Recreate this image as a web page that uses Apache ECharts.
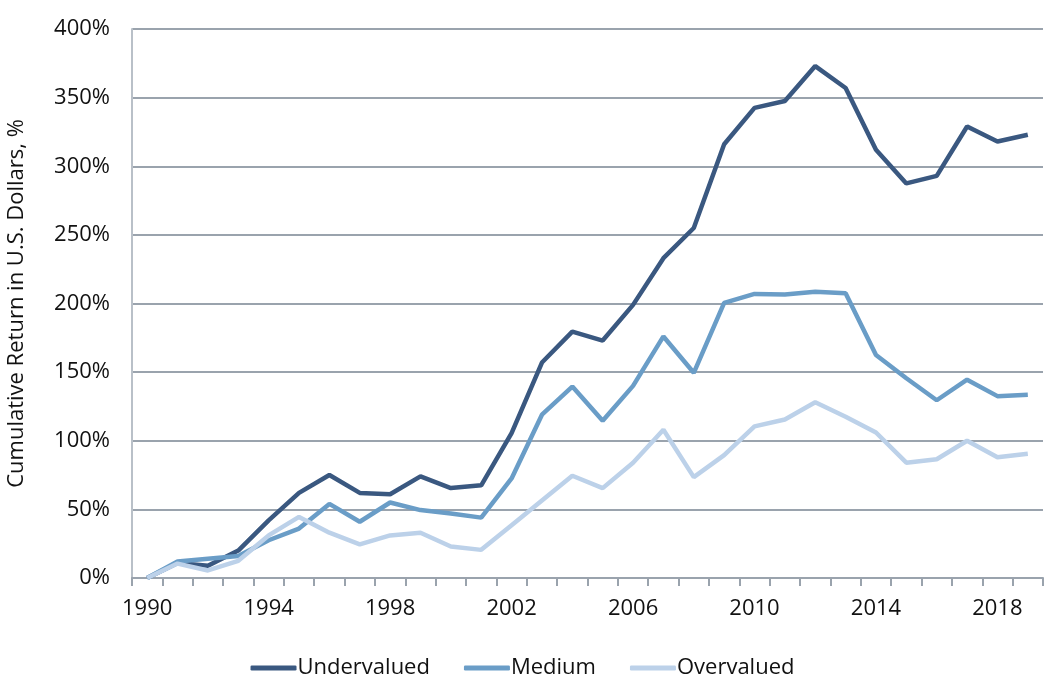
<!DOCTYPE html>
<html>
<head>
<meta charset="utf-8">
<script src="https://cdn.jsdelivr.net/npm/echarts@6/dist/echarts.min.js"></script>
<style>html,body{margin:0;padding:0;background:#fff}#c{width:1045px;height:681px}</style>
</head>
<body>
<div id="c"></div>
<script>
const years = ['1990','1991','1992','1993','1994','1995','1996','1997','1998','1999','2000','2001','2002','2003','2004','2005','2006','2007','2008','2009','2010','2011','2012','2013','2014','2015','2016','2017','2018','2019'];
const undervalued = [0, 11, 9, 20, 42, 62, 75, 62, 61, 74, 65.5, 67.5, 105.5, 157, 179.5, 173, 199, 233, 255, 316, 342.5, 347.5, 373, 357, 312, 287.5, 293, 329, 318, 323];
const medium = [0, 12, 14, 16, 27.5, 36, 54, 41, 55, 49.5, 47, 44, 72.5, 119, 139.5, 114.5, 140, 176, 149.5, 200.5, 207, 206.5, 208.5, 207.5, 162.5, 145.5, 129.5, 144.5, 132.5, 133.5];
const overvalued = [0, 10.5, 5.5, 12.5, 31, 44.5, 33, 24.5, 31, 33, 23, 20.5, 38.5, 56.5, 74.5, 65.5, 84, 108, 73.5, 89.5, 110.5, 115.5, 128, 117.5, 106, 84, 86.5, 100, 88, 90.5];
const seriesNames = ['Undervalued','Medium','Overvalued'];
const colors = ['#3a5880','#6a9dc7','#bcd1e9'];

const font = 'Open Sans';
const chart = echarts.init(document.getElementById('c'));
const mk = (name, data, color) => ({
  name, type: 'line', data, symbol: 'none', smooth: false,
  lineStyle: {color, width: 4.5}, itemStyle: {color}
});
chart.setOption({
  animation: false,
  grid: {left: 132, right: 2, top: 29, bottom: 103, containLabel: false, outerBoundsMode: 'none'},
  legend: {
    bottom: -3, left: 'center', itemWidth: 46, itemHeight: 5, itemGap: 34,
    icon: 'roundRect',
    textStyle: {fontFamily: font, fontSize: 22, color: '#111', padding: [0,0,0,-4]},
    data: seriesNames
  },
  xAxis: {
    type: 'category', data: years, boundaryGap: true,
    axisLine: {lineStyle: {color: '#9aa3ad', width: 2}},
    axisTick: {show: true, interval: 0, length: 8, lineStyle: {color: '#9aa3ad', width: 2}},
    axisLabel: {interval: 3, fontFamily: font, fontSize: 22, color: '#111', margin: 20}
  },
  yAxis: {
    type: 'value', min: 0, max: 400, interval: 50,
    name: 'Cumulative Return in U.S. Dollars, %', nameLocation: 'middle', nameGap: 104,
    nameTextStyle: {fontFamily: font, fontSize: 22, color: '#111'},
    axisLine: {show: true, lineStyle: {color: '#b9c0c8', width: 2}},
    axisTick: {show: false},
    splitLine: {lineStyle: {color: '#9aa3ad', width: 2}},
    axisLabel: {formatter: '{value}%', fontFamily: font, fontSize: 22, color: '#111', margin: 22}
  },
  series: [mk(seriesNames[0], undervalued, colors[0]), mk(seriesNames[1], medium, colors[1]), mk(seriesNames[2], overvalued, colors[2])]
});
</script>
</body>
</html>
